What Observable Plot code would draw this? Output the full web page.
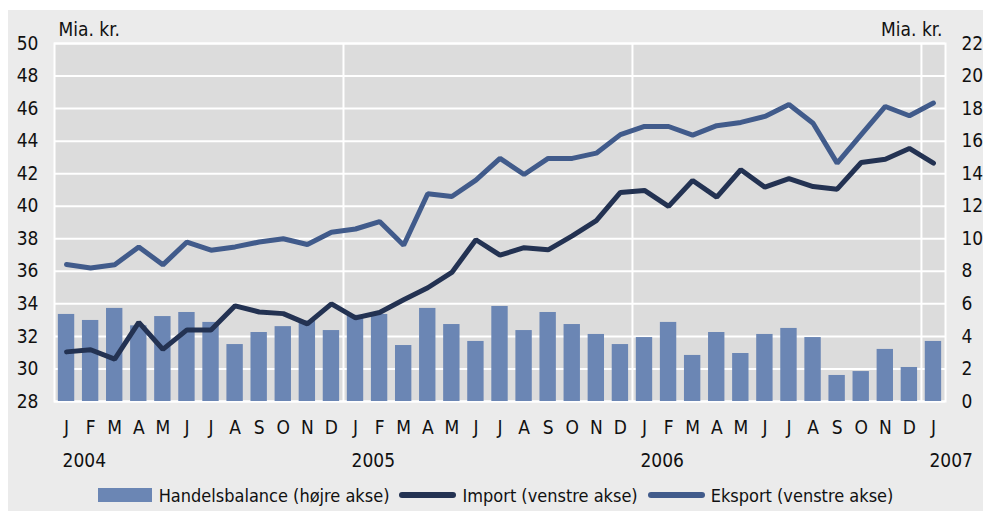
<!DOCTYPE html>
<html><head><meta charset="utf-8">
<script src="https://cdn.jsdelivr.net/npm/d3@7"></script>
<script src="https://cdn.jsdelivr.net/npm/@observablehq/plot@0.6"></script>
<style>
body{margin:0;background:#fff;}
#wrap{position:absolute;left:8px;top:10px;width:975px;height:501px;background:#ebebeb;
  font-family:"Liberation Sans Narrow","DejaVu Sans Condensed","Open Sans",sans-serif;color:#111;}
#legend{position:absolute;left:0;top:470px;width:975px;height:30px;display:flex;align-items:center;justify-content:center;font-size:18px;}
.item{display:flex;align-items:center;margin:0 5px;}
.sw-bar{width:54px;height:14px;margin-right:7px;}
.sw-line{width:57px;height:6px;border-radius:3px;margin-right:6px;}
</style></head>
<body><div id="wrap"><div id="chart"></div><div id="legend"></div></div>
<script>
const monthLabels = ["J","F","M","A","M","J","J","A","S","O","N","D",
  "J","F","M","A","M","J","J","A","S","O","N","D",
  "J","F","M","A","M","J","J","A","S","O","N","D","J"];
const yearLabels = ["2004","2005","2006","2007"];
const yearStarts = [0,12,24,36];
const yearBreaks = [11.5,23.5,35.5];
const leftTicks = [28,30,32,34,36,38,40,42,44,46,48,50];
const rightTicks = [0,2,4,6,8,10,12,14,16,18,20,22];
// Handelsbalance (right axis, bn kr)
const balance = [5.35,4.98,5.72,4.65,5.22,5.47,4.86,3.5,4.24,4.6,4.95,4.36,
  5.3,5.35,3.44,5.72,4.73,3.69,5.84,4.36,5.47,4.73,4.12,3.5,
  3.93,4.86,2.83,4.24,2.95,4.12,4.49,3.93,1.6,1.84,3.2,2.09,3.69];
// Import (left axis)
const imports = [31.05,31.18,30.6,32.86,31.2,32.4,32.4,33.88,33.5,33.4,32.77,34.0,
  33.14,33.47,34.25,34.99,35.93,37.94,36.99,37.45,37.32,38.18,39.12,40.85,
  40.97,39.99,41.58,40.56,42.24,41.17,41.7,41.21,41.05,42.69,42.89,43.55,42.65];
// Eksport (left axis)
const exports_ = [36.42,36.2,36.4,37.5,36.4,37.8,37.3,37.5,37.8,38.0,37.65,38.4,
  38.6,39.06,37.6,40.77,40.6,41.6,42.94,41.95,42.94,42.94,43.26,44.4,
  44.9,44.9,44.37,44.95,45.15,45.52,46.25,45.1,42.65,44.4,46.13,45.56,46.34];

const colBar = "#6b86b4", colImp = "#233252", colExp = "#415b8b";
const rightOffset = leftTicks[0] - rightTicks[0];
const data = balance.map((b,i)=>({i, bal:b, imp:imports[i], exp:exports_[i]}));
const idx = d3.range(monthLabels.length);
const fs = 19;

const chart = Plot.plot({
  width: 975, height: 470,
  marginLeft: 46, marginRight: 38, marginTop: 33, marginBottom: 79,
  style: {fontFamily: '"Liberation Sans Narrow","DejaVu Sans Condensed","Open Sans",sans-serif', fontSize: fs + "px", color: "#111", background: "transparent", overflow: "visible"},
  x: {type: "linear", domain: [-0.5, monthLabels.length - 0.5], axis: null},
  y: {domain: [leftTicks[0], leftTicks[leftTicks.length-1]], axis: null},
  marks: [
    Plot.frame({fill: "#dcdcdc", stroke: "white", strokeWidth: 2}),
    Plot.gridY(leftTicks, {stroke: "white", strokeOpacity: 1, strokeWidth: 2}),
    Plot.ruleX(yearBreaks, {stroke: "white", strokeWidth: 2}),
    Plot.rect(data, {x1: d => d.i - 0.34, x2: d => d.i + 0.34, y1: rightOffset, y2: d => d.bal + rightOffset, fill: colBar}),
    Plot.line(data, {x: "i", y: "imp", stroke: colImp, strokeWidth: 5, strokeLinejoin: "miter"}),
    Plot.line(data, {x: "i", y: "exp", stroke: colExp, strokeWidth: 5, strokeLinejoin: "miter"}),
    Plot.axisY(leftTicks, {anchor: "left", tickSize: 0, tickPadding: 16, label: null, fontSize: fs}),
    Plot.axisY(leftTicks, {anchor: "right", tickSize: 0, tickPadding: 16, label: null, fontSize: fs, tickFormat: (d,i) => rightTicks[i]}),
    Plot.axisX(idx, {anchor: "bottom", tickSize: 0, tickPadding: 19, label: null, fontSize: fs, tickFormat: i => monthLabels[i]}),
    Plot.axisX(yearStarts, {anchor: "bottom", tickSize: 0, tickPadding: 52, label: null, fontSize: fs, textAnchor: "start", dx: -4, tickFormat: (d,i) => yearLabels[i]}),
    Plot.text(["Mia. kr."], {frameAnchor: "top-left", dx: 4, dy: -14, textAnchor: "start", lineAnchor: "middle", fontSize: fs}),
    Plot.text(["Mia. kr."], {frameAnchor: "top-right", dx: -3, dy: -14, textAnchor: "end", lineAnchor: "middle", fontSize: fs})
  ]
});
document.getElementById("chart").appendChild(chart);

const legendItems = [
  {label: "Handelsbalance (højre akse)", color: colBar, kind: "bar"},
  {label: "Import (venstre akse)", color: colImp, kind: "line"},
  {label: "Eksport (venstre akse)", color: colExp, kind: "line"}
];
const lg = d3.select("#legend");
legendItems.forEach(it => {
  const el = lg.append("div").attr("class","item");
  el.append("div").attr("class", it.kind === "bar" ? "sw-bar" : "sw-line").style("background", it.color);
  el.append("span").text(it.label);
});
</script></body></html>
